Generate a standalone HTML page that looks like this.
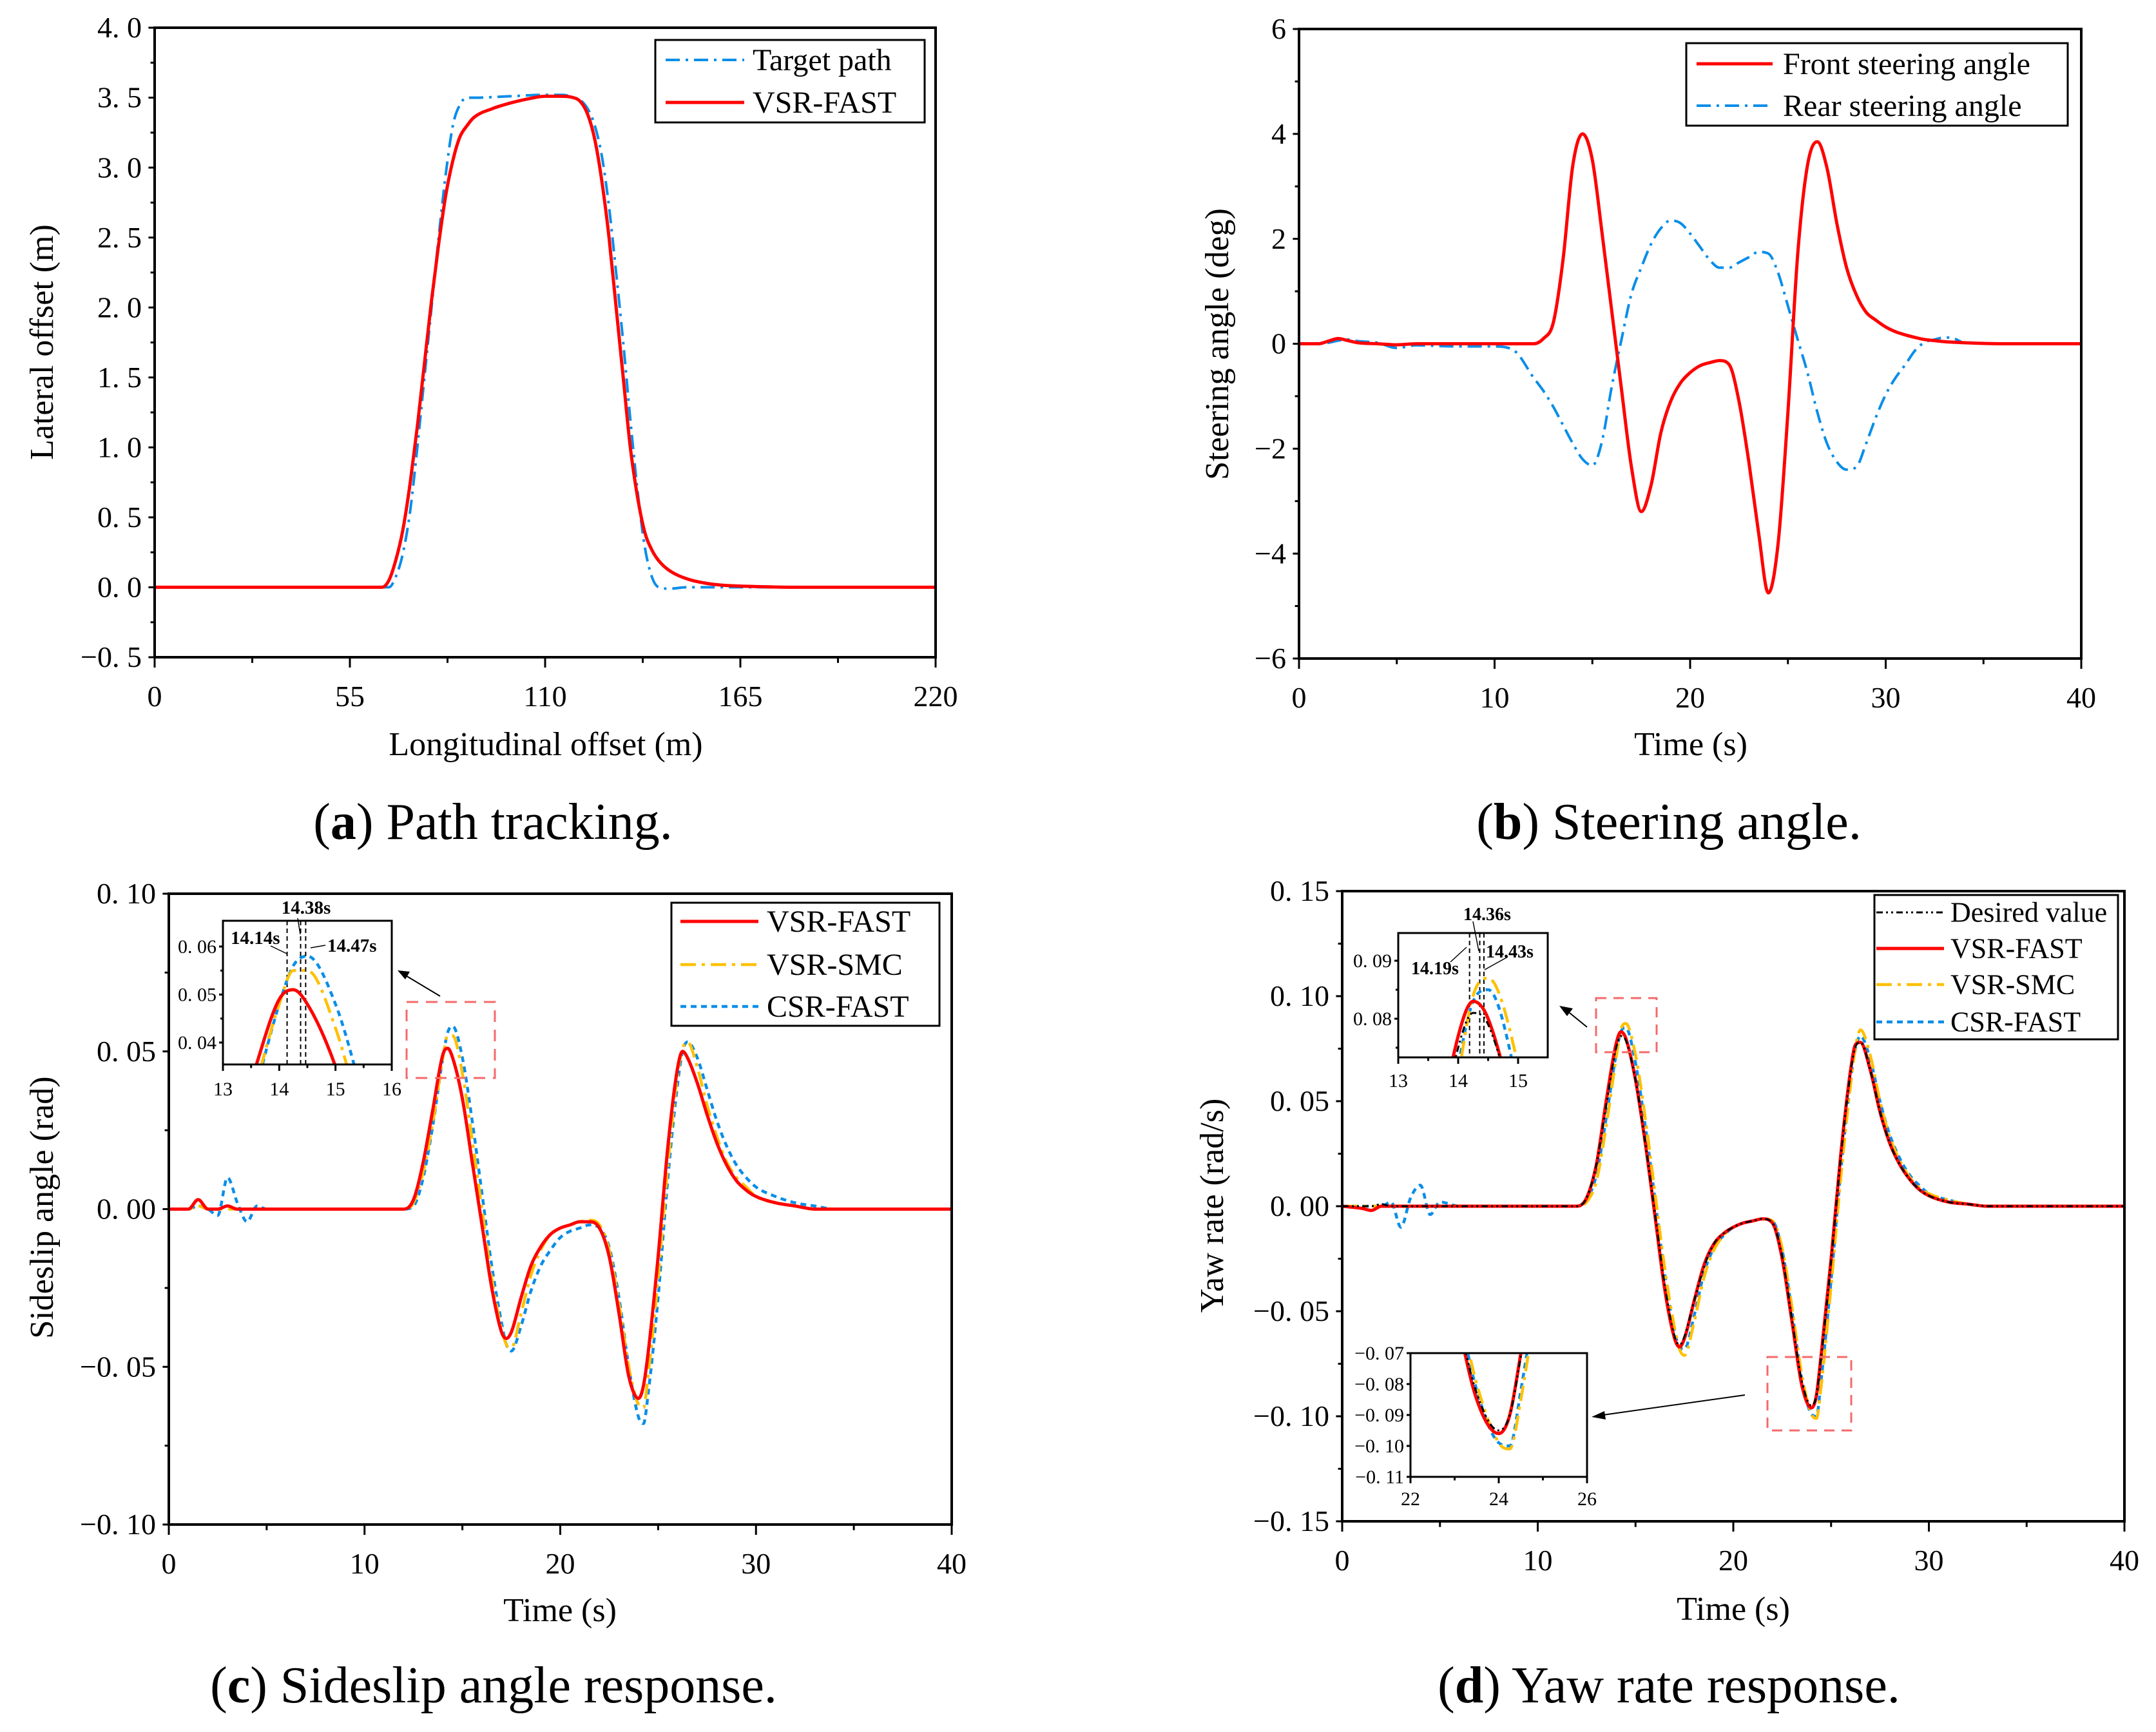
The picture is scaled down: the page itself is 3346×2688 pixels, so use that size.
<!DOCTYPE html>
<html><head><meta charset="utf-8">
<style>
html,body{margin:0;padding:0;background:#fff;overflow:hidden;width:3346px;height:2688px;}
svg{display:block;overflow:hidden;}
text{font-family:"Liberation Serif",serif;fill:#000;}
</style></head>
<body>
<svg id="fig" width="3346" height="2688" viewBox="0 0 3346 2688" xmlns="http://www.w3.org/2000/svg"></svg>
<script>
// ---------------- DATA ----------------
// (a) path tracking
const aXTarget = [0,30,60,66,68,70,72,74,76,78,80,82,84,86,88,90,100,110,115,118,120,122,124,126,128,130,132,134,136,138,140,142,145,150,160,220];
const aYTarget = [0,0,0,0,0.08,0.25,0.55,1.0,1.5,2.0,2.5,2.95,3.3,3.45,3.5,3.5,3.51,3.52,3.52,3.5,3.48,3.42,3.3,3.08,2.72,2.25,1.75,1.2,0.7,0.3,0.08,0.0,-0.01,0,0,0];
const aXFast = [0,30,60,64,66,68,70,72,74,76,78,80,82,84,86,88,90,95,100,105,110,114,118,120,122,124,126,128,130,132,134,136,138,140,142,145,150,155,160,170,180,220];
const aYFast = [0,0,0,0,0.05,0.2,0.42,0.75,1.15,1.6,2.05,2.45,2.8,3.05,3.22,3.3,3.36,3.42,3.46,3.49,3.51,3.51,3.5,3.47,3.38,3.2,2.9,2.5,2.0,1.5,1.0,0.65,0.4,0.27,0.19,0.12,0.06,0.03,0.015,0.005,0,0];
const aXTicks = [0,55,110,165,220];
const aXTickLabels = ["0","55","110","165","220"];
const aYTicks = [-0.5,0,0.5,1,1.5,2,2.5,3,3.5,4];
const aYTickLabels = ["\u22120. 5","0. 0","0. 5","1. 0","1. 5","2. 0","2. 5","3. 0","3. 5","4. 0"];

// (b) steering angle
const bTime = [0,1,1.5,2,2.5,3,4,5,6,8,10,11,12,12.5,13,13.5,14,14.5,15,15.5,16,16.5,17,17.5,18,18.5,19,19.5,20,20.5,21,21.5,22,22.5,23,23.5,24,24.5,25,25.5,26,26.5,27,27.5,28,28.5,29,29.5,30,30.5,31,31.5,32,32.5,33,33.5,34,36,40];
const bFront = [0,0,0.05,0.1,0.06,0.02,0,-0.02,0,0,0,0,0,0.1,0.4,1.6,3.4,4.0,3.5,2.1,0.6,-0.9,-2.35,-3.2,-2.7,-1.7,-1.1,-0.75,-0.55,-0.42,-0.36,-0.32,-0.4,-1.1,-2.25,-3.6,-4.75,-3.8,-1.3,1.7,3.4,3.85,3.35,2.3,1.45,0.93,0.6,0.45,0.32,0.23,0.17,0.12,0.08,0.06,0.04,0.03,0.02,0,0];
const bRear = [0,0,0.02,0.06,0.08,0.05,0.02,-0.08,-0.03,-0.05,-0.05,-0.13,-0.65,-0.9,-1.2,-1.55,-1.9,-2.2,-2.32,-1.85,-0.8,0.1,0.95,1.45,1.9,2.2,2.35,2.3,2.1,1.85,1.6,1.45,1.45,1.55,1.65,1.75,1.72,1.35,0.72,0.08,-0.55,-1.3,-1.9,-2.25,-2.4,-2.35,-1.9,-1.4,-0.97,-0.65,-0.4,-0.13,0.03,0.08,0.12,0.1,0.02,0,0];
const bXTicks = [0,10,20,30,40];
const bXTickLabels = ["0","10","20","30","40"];
const bYTicks = [-6,-4,-2,0,2,4,6];
const bYTickLabels = ["\u22126","\u22124","\u22122","0","2","4","6"];

// (c)/(d) shared time base
const tTime = [0,1,1.5,2,2.5,3,3.5,4,4.5,5,6,8,10,11,12,12.5,13,13.5,14,14.25,14.5,15,15.5,16,16.5,17,17.25,17.5,18,18.5,19,19.5,20,20.5,21,21.5,22,22.5,23,23.5,24,24.25,24.5,25,25.5,26,26.25,26.5,27,27.5,28,28.5,29,29.5,30,31,32,33,34,36,40];
// (c) sideslip angle
const cFast = [0,0,0.003,0,0,0.001,0,0,0,0,0,0,0,0,0,0.003,0.015,0.032,0.049,0.051,0.048,0.035,0.015,-0.005,-0.025,-0.039,-0.041,-0.039,-0.028,-0.018,-0.012,-0.008,-0.006,-0.005,-0.004,-0.004,-0.006,-0.015,-0.033,-0.053,-0.06,-0.056,-0.045,-0.015,0.02,0.045,0.05,0.048,0.04,0.03,0.021,0.014,0.009,0.006,0.004,0.002,0.001,0,0,0,0];
const cSmc = [0,0,0.001,0,0,0,0,0,0,0,0,0,0,0,0,0.002,0.012,0.028,0.048,0.055,0.055,0.043,0.022,0.0,-0.022,-0.038,-0.043,-0.044,-0.033,-0.021,-0.013,-0.008,-0.006,-0.005,-0.004,-0.0035,-0.005,-0.013,-0.03,-0.05,-0.062,-0.063,-0.052,-0.022,0.014,0.043,0.051,0.053,0.045,0.033,0.023,0.015,0.01,0.007,0.004,0.002,0.001,0,0,0,0];
const cCsr = [0,0,0.001,0,-0.002,0.01,0.002,-0.004,0.001,0,0,0,0,0,0,0.001,0.01,0.027,0.048,0.056,0.058,0.048,0.028,0.005,-0.018,-0.036,-0.043,-0.045,-0.037,-0.026,-0.018,-0.013,-0.009,-0.007,-0.006,-0.005,-0.006,-0.012,-0.028,-0.05,-0.066,-0.068,-0.058,-0.028,0.01,0.04,0.05,0.053,0.048,0.038,0.028,0.02,0.014,0.01,0.007,0.004,0.002,0.001,0,0,0];
const cXTicks = [0,10,20,30,40];
const cXTickLabels = ["0","10","20","30","40"];
const cYTicks = [-0.1,-0.05,0,0.05,0.1];
const cYTickLabels = ["\u22120. 10","\u22120. 05","0. 00","0. 05","0. 10"];
const cInsetPeaks = [14.14,14.38,14.47];
const cInsetPeakLabels = ["14.14s","14.38s","14.47s"];

// (d) yaw rate
const dDesired = [0,0,0,0.001,0,0,0,0,0,0,0,0,0,0,0,0.004,0.02,0.048,0.075,0.081,0.079,0.06,0.03,-0.004,-0.038,-0.062,-0.066,-0.062,-0.045,-0.029,-0.018,-0.013,-0.01,-0.008,-0.007,-0.006,-0.008,-0.024,-0.054,-0.083,-0.095,-0.09,-0.071,-0.026,0.024,0.064,0.076,0.078,0.065,0.045,0.03,0.02,0.013,0.008,0.005,0.002,0.001,0,0,0,0];
const dFast = [0,-0.001,-0.002,0,0,0,0,0,0,0,0,0,0,0,0,0.004,0.02,0.05,0.077,0.083,0.08,0.06,0.03,-0.005,-0.04,-0.063,-0.067,-0.063,-0.045,-0.028,-0.018,-0.013,-0.01,-0.008,-0.007,-0.006,-0.008,-0.025,-0.055,-0.085,-0.096,-0.09,-0.07,-0.025,0.025,0.065,0.077,0.078,0.065,0.045,0.03,0.02,0.013,0.008,0.005,0.002,0.001,0,0,0,0];
const dSmc = [0,0,0,0,0,0,0,0,0,0,0,0,0,0,0,0.002,0.012,0.038,0.07,0.084,0.087,0.072,0.042,0.006,-0.03,-0.058,-0.068,-0.071,-0.055,-0.034,-0.021,-0.014,-0.01,-0.008,-0.007,-0.006,-0.007,-0.02,-0.048,-0.08,-0.099,-0.101,-0.085,-0.038,0.014,0.058,0.076,0.084,0.072,0.05,0.033,0.022,0.014,0.009,0.006,0.003,0.001,0,0,0,0];
const dCsr = [0,0,0,0,0.002,-0.01,0.004,0.01,-0.004,0.002,0,0,0,0,0,0.003,0.015,0.042,0.072,0.083,0.085,0.068,0.038,0.003,-0.033,-0.06,-0.067,-0.068,-0.052,-0.032,-0.02,-0.014,-0.01,-0.008,-0.007,-0.006,-0.007,-0.021,-0.05,-0.082,-0.099,-0.1,-0.082,-0.035,0.017,0.06,0.075,0.081,0.07,0.05,0.034,0.023,0.015,0.01,0.006,0.003,0.001,0,0,0,0];
const dXTicks = [0,10,20,30,40];
const dXTickLabels = ["0","10","20","30","40"];
const dYTicks = [-0.15,-0.1,-0.05,0,0.05,0.1,0.15];
const dYTickLabels = ["\u22120. 15","\u22120. 10","\u22120. 05","0. 00","0. 05","0. 10","0. 15"];
const dInsetPeaks = [14.19,14.36,14.43];
const dInsetPeakLabels = ["14.19s","14.36s","14.43s"];

// ---------------- DRAWING ----------------
const NS = "http://www.w3.org/2000/svg";
const fig = document.getElementById("fig");
function mk(tag, attrs, parent){
  const e = document.createElementNS(NS, tag);
  for (const k in attrs) e.setAttribute(k, attrs[k]);
  (parent || fig).appendChild(e);
  return e;
}
function lin(d0,d1,r0,r1){ return v => r0 + (v-d0)/(d1-d0)*(r1-r0); }
function smoothPath(xs, ys, sx, sy){
  const P = xs.map((x,i)=>[sx(x), sy(ys[i])]);
  const n = P.length;
  const d = [], m = [];
  for (let i=0;i<n-1;i++) d.push((P[i+1][1]-P[i][1])/(P[i+1][0]-P[i][0]));
  m[0]=d[0]; m[n-1]=d[n-2];
  for (let i=1;i<n-1;i++){ m[i] = (d[i-1]*d[i] <= 0) ? 0 : (d[i-1]+d[i])/2; }
  for (let i=0;i<n-1;i++){
    if (d[i]===0){ m[i]=0; m[i+1]=0; continue; }
    const a=m[i]/d[i], b=m[i+1]/d[i], s=a*a+b*b;
    if (s>9){ const t=3/Math.sqrt(s); m[i]=t*a*d[i]; m[i+1]=t*b*d[i]; }
  }
  let s = "M"+P[0][0].toFixed(1)+","+P[0][1].toFixed(1);
  for (let i=0;i<n-1;i++){
    const h=(P[i+1][0]-P[i][0])/3;
    s += " C"+(P[i][0]+h).toFixed(1)+","+(P[i][1]+m[i]*h).toFixed(1)+" "+(P[i+1][0]-h).toFixed(1)+","+(P[i+1][1]-m[i+1]*h).toFixed(1)+" "+P[i+1][0].toFixed(1)+","+P[i+1][1].toFixed(1);
  }
  return s;
}
const STY = {
  red:{stroke:"#ff0000","stroke-width":5,fill:"none"},
  blueDD:{stroke:"#0a8ee8","stroke-width":4,fill:"none","stroke-dasharray":"22 9 4 9"},
  yellowDD:{stroke:"#ffc000","stroke-width":4.5,fill:"none","stroke-dasharray":"24 9 5 9"},
  blueDot:{stroke:"#0a8ee8","stroke-width":4.5,fill:"none","stroke-dasharray":"9 7"},
  black:{stroke:"#000","stroke-width":3,fill:"none","stroke-dasharray":"10 5 3 5 3 5"}
};
let clipId = 0;
function axesFrame(g, c){
  mk("rect",{x:c.x0,y:c.yt,width:c.x1-c.x0,height:c.yb-c.yt,fill:"none",stroke:"#000","stroke-width":c.lw||4},g);
}
function ticks(g, c){
  const sx=c.sx, sy=c.sy, fs=c.fs||46;
  c.xt.forEach((v,i)=>{
    const x=sx(v);
    const tk = mk("line",{x1:x,y1:c.yb,x2:x,y2:c.yb+(c.tl||16),stroke:"#000","stroke-width":3},g);
    
    
    const t = mk("text",{x:x,y:c.yb+(c.xlo||76),"text-anchor":"middle","font-size":fs},g);
    t.textContent=c.xl[i];
    
    
  });
  (c.xm||[]).forEach(v=>{
    const x=sx(v);
    const tk = mk("line",{x1:x,y1:c.yb,x2:x,y2:c.yb+(c.tl||16)*0.55,stroke:"#000","stroke-width":3},g);
    
    
  });
  c.yt2.forEach((v,i)=>{
    const y=sy(v);
    const tk = mk("line",{x1:c.x0,y1:y,x2:c.x0-(c.tl||16)*0.6,y2:y,stroke:"#000","stroke-width":3},g);
    
    
    const t = mk("text",{x:c.x0-(c.ylo||20),y:y+fs*0.33,"text-anchor":"end","font-size":fs},g);
    t.textContent=c.yl[i];
    
    
  });
  (c.ym||[]).forEach(v=>{
    const y=sy(v);
    const tk = mk("line",{x1:c.x0,y1:y,x2:c.x0-(c.tl||16)*0.4,y2:y,stroke:"#000","stroke-width":3},g);
    
    
  });
}
function clip(g, c){
  const id="clip"+(clipId++);
  const cp = mk("clipPath",{id:id},g);
  mk("rect",{x:c.x0,y:c.yt,width:c.x1-c.x0,height:c.yb-c.yt},cp);
  const cg = mk("g",{"clip-path":"url(#"+id+")"},g);
  return cg;
}
function series(parent, xs, ys, c, sty, name){
  const p = mk("path",Object.assign({d:smoothPath(xs,ys,c.sx,c.sy)},sty),parent);
  
  
  return p;
}
function label(txt,x,y,fs,opts,parent){
  const t = mk("text",Object.assign({x:x,y:y,"font-size":fs},opts||{}),parent||fig);
  t.textContent = txt;
  return t;
}
function legend(g, box, items){
  const r = mk("rect",{x:box.x,y:box.y,width:box.w,height:box.h,fill:"#fff",stroke:"#000","stroke-width":3},g);
  
  
  items.forEach((it,i)=>{
    const y = box.ys[i];
    const ln = mk("line",Object.assign({x1:box.lx0,y1:y,x2:box.lx1,y2:y},it.sty),g);
    
    
    const t = label(it.name, box.tx, y+box.fs*0.33, box.fs, {}, g);
    
    
  });
}
function caption(letter, rest, cx, y){
  const t = mk("text",{x:cx,y:y,"font-size":80,"text-anchor":"middle"});
  
  
  const a = mk("tspan",{},t); a.textContent="(";
  const b = mk("tspan",{"font-weight":"bold"},t); b.textContent=letter;
  const c2 = mk("tspan",{},t); c2.textContent=") "+rest;
}
function yTitle(txt,x,y){
  const t = mk("text",{x:x,y:y,"font-size":52,"text-anchor":"middle",transform:"rotate(-90 "+x+" "+y+")"});
  t.textContent=txt;
  
  
}
function xTitle(txt,x,y){
  const t = mk("text",{x:x,y:y,"font-size":52,"text-anchor":"middle"});
  t.textContent=txt;
  
  
}
function range(a,b,s){ const r=[]; for(let v=a; v<=b+1e-9; v+=s) r.push(+v.toFixed(4)); return r; }

// ---- Panel (a)
{
  const g = mk("g",{});  
  const c = {x0:240,x1:1452,yb:1020,yt:43};
  c.sx=lin(0,220,c.x0,c.x1); c.sy=lin(-0.5,4,c.yb,c.yt);
  c.xt=aXTicks; c.xl=aXTickLabels; c.yt2=aYTicks; c.yl=aYTickLabels;
  c.xm=[27.5,82.5,137.5,192.5]; c.ym=range(-0.25,3.75,0.5);
  const cg = clip(g,c);
  series(cg,aXTarget,aYTarget,c,STY.blueDD,'target-path-line');
  series(cg,aXFast,aYFast,c,STY.red,'vsr-fast-line');
  axesFrame(g,c); ticks(g,c);
  legend(g,{x:1017,y:62,w:418,h:128,ys:[93,159],lx0:1033,lx1:1155,tx:1168,fs:48},
    [{name:"Target path",sty:STY.blueDD},{name:"VSR-FAST",sty:STY.red}]);
  yTitle("Lateral offset (m)",82,531);
  xTitle("Longitudinal offset (m)",847,1172);
  caption("a","Path tracking.",765,1302);
}
// ---- Panel (b)
{
  const g = mk("g",{});  
  const c = {x0:2016,x1:3230,yb:1022,yt:45};
  c.sx=lin(0,40,c.x0,c.x1); c.sy=lin(-6,6,c.yb,c.yt);
  c.xt=bXTicks; c.xl=bXTickLabels; c.yt2=bYTicks; c.yl=bYTickLabels;
  c.xm=[5,15,25,35]; c.ym=[-5,-3,-1,1,3,5];
  const cg = clip(g,c);
  series(cg,bTime,bRear,c,STY.blueDD,'rear-steering-line');
  series(cg,bTime,bFront,c,STY.red,'front-steering-line');
  axesFrame(g,c); ticks(g,c);
  legend(g,{x:2617,y:67,w:592,h:128,ys:[99,164],lx0:2633,lx1:2751,tx:2767,fs:48},
    [{name:"Front steering angle",sty:STY.red},{name:"Rear steering angle",sty:STY.blueDD}]);
  yTitle("Steering angle (deg)",1906,534);
  xTitle("Time (s)",2624,1172);
  caption("b","Steering angle.",2590,1302);
}
// ---- Panel (c)
{
  const g = mk("g",{});  
  const c = {x0:262,x1:1477,yb:2366,yt:1387};
  c.sx=lin(0,40,c.x0,c.x1); c.sy=lin(-0.1,0.1,c.yb,c.yt);
  c.xt=cXTicks; c.xl=cXTickLabels; c.yt2=cYTicks; c.yl=cYTickLabels;
  c.xm=[5,15,25,35]; c.ym=[-0.075,-0.025,0.025,0.075];
  const cg = clip(g,c);
  series(cg,tTime,cCsr,c,STY.blueDot,'csr-fast-line');
  series(cg,tTime,cSmc,c,STY.yellowDD,'vsr-smc-line');
  series(cg,tTime,cFast,c,STY.red,'vsr-fast-line');
  axesFrame(g,c); ticks(g,c);
  legend(g,{x:1042,y:1401,w:416,h:191,ys:[1430,1497,1562],lx0:1056,lx1:1177,tx:1190,fs:48},
    [{name:"VSR-FAST",sty:STY.red},{name:"VSR-SMC",sty:STY.yellowDD},{name:"CSR-FAST",sty:STY.blueDot}]);
  const zb = mk("rect",{x:631,y:1555,width:137,height:118,fill:"none",stroke:"#f46a6a","stroke-width":3,"stroke-dasharray":"18 12"},g);
   
  const ar = mk("line",{x1:683,y1:1546,x2:628,y2:1513,stroke:"#000","stroke-width":2},g);
   
  mk("polygon",{points:"617,1506 636,1508 629,1520",fill:"#000"},g);
  const ic = {x0:346,x1:608,yb:1652,yt:1429,fs:30,tl:10,xlo:48,ylo:10,lw:3};
  ic.sx=lin(13,16,ic.x0,ic.x1); ic.sy=lin(0.04,0.06,1618,1469);
  ic.xt=[13,14,15,16]; ic.xl=["13","14","15","16"]; ic.yt2=[0.04,0.05,0.06]; ic.yl=["0. 04","0. 05","0. 06"];
  ic.xm=[13.5,14.5,15.5]; ic.ym=[0.045,0.055];
  const ig = mk("g",{});  
  mk("rect",{x:ic.x0,y:ic.yt,width:ic.x1-ic.x0,height:ic.yb-ic.yt,fill:"#fff"},ig);
  const icg = clip(ig,ic);
  cInsetPeaks.forEach(p=>{ const l=mk("line",{x1:ic.sx(p),y1:ic.yt,x2:ic.sx(p),y2:ic.yb,stroke:"#000","stroke-width":2,"stroke-dasharray":"7 5"},icg);   });
  series(icg,tTime,cCsr,ic,STY.blueDot,'inset-csr-fast');
  series(icg,tTime,cSmc,ic,STY.yellowDD,'inset-vsr-smc');
  series(icg,tTime,cFast,ic,STY.red,'inset-vsr-fast');
  axesFrame(ig,ic); ticks(ig,ic);
  const l0=label(cInsetPeakLabels[0],358,1465,29,{"font-weight":"bold"},ig);  
  const l1=label(cInsetPeakLabels[1],475,1418,29,{"font-weight":"bold","text-anchor":"middle"},ig);  
  const l2=label(cInsetPeakLabels[2],508,1477,29,{"font-weight":"bold"},ig);  
  mk("line",{x1:420,y1:1468,x2:445,y2:1480,stroke:"#000","stroke-width":1.5},ig);
  mk("line",{x1:462,y1:1425,x2:466,y2:1450,stroke:"#000","stroke-width":1.5},ig);
  mk("line",{x1:505,y1:1467,x2:482,y2:1471,stroke:"#000","stroke-width":1.5},ig);
  yTitle("Sideslip angle (rad)",82,1874);
  xTitle("Time (s)",869,2516);
  caption("c","Sideslip angle response.",766,2642);
}
// ---- Panel (d)
{
  const g = mk("g",{});  
  const c = {x0:2083,x1:3297,yb:2361,yt:1383};
  c.sx=lin(0,40,c.x0,c.x1); c.sy=lin(-0.15,0.15,c.yb,c.yt);
  c.xt=dXTicks; c.xl=dXTickLabels; c.yt2=dYTicks; c.yl=dYTickLabels;
  c.xm=[5,15,25,35]; c.ym=[-0.125,-0.075,-0.025,0.025,0.075,0.125];
  const cg = clip(g,c);
  series(cg,tTime,dCsr,c,STY.blueDot,'csr-fast-line');
  series(cg,tTime,dSmc,c,STY.yellowDD,'vsr-smc-line');
  series(cg,tTime,dFast,c,STY.red,'vsr-fast-line');
  series(cg,tTime,dDesired,c,STY.black,'desired-value-line');
  axesFrame(g,c); ticks(g,c);
  legend(g,{x:2909,y:1389,w:378,h:224,ys:[1416,1472,1528,1586],lx0:2912,lx1:3017,tx:3027,fs:44},
    [{name:"Desired value",sty:STY.black},{name:"VSR-FAST",sty:STY.red},{name:"VSR-SMC",sty:STY.yellowDD},{name:"CSR-FAST",sty:STY.blueDot}]);
  const zb1 = mk("rect",{x:2477,y:1549,width:94,height:84,fill:"none",stroke:"#f46a6a","stroke-width":3,"stroke-dasharray":"16 11"},g);
   
  const zb2 = mk("rect",{x:2743,y:2106,width:130,height:114,fill:"none",stroke:"#f46a6a","stroke-width":3,"stroke-dasharray":"16 11"},g);
   
  mk("line",{x1:2463,y1:1594,x2:2436,y2:1572,stroke:"#000","stroke-width":2},g);
  mk("polygon",{points:"2420,1561 2441,1565 2432,1577",fill:"#000"},g);
  mk("line",{x1:2708,y1:2165,x2:2488,y2:2196,stroke:"#000","stroke-width":2},g);
  mk("polygon",{points:"2470,2199 2490,2190 2492,2203",fill:"#000"},g);
  const i1 = {x0:2170,x1:2402,yb:1641,yt:1448,fs:30,tl:10,xlo:46,ylo:10,lw:3};
  i1.sx=lin(13,15,2170,2356); i1.sy=lin(0.08,0.09,1581,1491);
  i1.xt=[13,14,15]; i1.xl=["13","14","15"]; i1.yt2=[0.08,0.09]; i1.yl=["0. 08","0. 09"];
  i1.xm=[13.5,14.5]; i1.ym=[0.075,0.085];
  const g1 = mk("g",{});  
  mk("rect",{x:i1.x0,y:i1.yt,width:i1.x1-i1.x0,height:i1.yb-i1.yt,fill:"#fff"},g1);
  const c1 = clip(g1,i1);
  dInsetPeaks.forEach(p=>{ const l=mk("line",{x1:i1.sx(p),y1:i1.yt,x2:i1.sx(p),y2:i1.yb,stroke:"#000","stroke-width":2,"stroke-dasharray":"7 5"},c1);   });
  series(c1,tTime,dCsr,i1,STY.blueDot,'inset-csr-fast');
  series(c1,tTime,dSmc,i1,STY.yellowDD,'inset-vsr-smc');
  series(c1,tTime,dFast,i1,STY.red,'inset-vsr-fast');
  series(c1,tTime,dDesired,i1,STY.black,'inset-desired');
  axesFrame(g1,i1); ticks(g1,i1);
  const m0=label(dInsetPeakLabels[0],2190,1512,28,{"font-weight":"bold"},g1);  
  const m1=label(dInsetPeakLabels[1],2308,1428,28,{"font-weight":"bold","text-anchor":"middle"},g1);  
  const m2=label(dInsetPeakLabels[2],2306,1486,28,{"font-weight":"bold"},g1);  
  mk("line",{x1:2251,y1:1493,x2:2276,y2:1470,stroke:"#000","stroke-width":1.5},g1);
  mk("line",{x1:2286,y1:1430,x2:2295,y2:1476,stroke:"#000","stroke-width":1.5},g1);
  mk("line",{x1:2340,y1:1485,x2:2304,y2:1505,stroke:"#000","stroke-width":1.5},g1);
  const i2 = {x0:2189,x1:2463,yb:2292,yt:2100,fs:30,tl:10,xlo:44,ylo:10,lw:3};
  i2.sx=lin(22,26,2189,2463); i2.sy=lin(-0.11,-0.07,2292,2100);
  i2.xt=[22,24,26]; i2.xl=["22","24","26"]; i2.yt2=[-0.11,-0.1,-0.09,-0.08,-0.07]; i2.yl=["\u22120. 11","\u22120. 10","\u22120. 09","\u22120. 08","\u22120. 07"];
  i2.xm=[23,25]; i2.ym=[];
  const g2 = mk("g",{});  
  mk("rect",{x:i2.x0,y:i2.yt,width:i2.x1-i2.x0,height:i2.yb-i2.yt,fill:"#fff"},g2);
  const c2 = clip(g2,i2);
  series(c2,tTime,dCsr,i2,STY.blueDot,'inset-csr-fast');
  series(c2,tTime,dSmc,i2,STY.yellowDD,'inset-vsr-smc');
  series(c2,tTime,dFast,i2,STY.red,'inset-vsr-fast');
  series(c2,tTime,dDesired,i2,STY.black,'inset-desired');
  axesFrame(g2,i2); ticks(g2,i2);
  yTitle("Yaw rate (rad/s)",1898,1871);
  xTitle("Time (s)",2690,2514);
  caption("d","Yaw rate response.",2590,2642);
}
</script>
</body></html>
